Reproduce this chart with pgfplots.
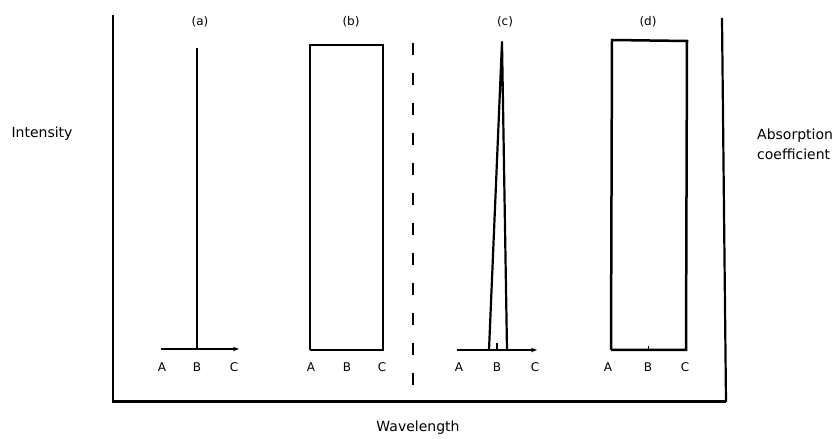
\documentclass[border=0pt]{standalone}
\usepackage{pgfplots}
\pgfplotsset{compat=1.18}
\usepackage{fontspec}
\setmainfont{DejaVu Sans}
\usetikzlibrary{arrows.meta}
\tikzset{
  lbl/.style={font=\fontsize{12}{14}\selectfont},
  big/.style={font=\fontsize{14}{20}\selectfont},
}
\begin{document}
\begin{tikzpicture}
\begin{axis}[
  scale only axis, width=839pt, height=438pt,
  xmin=0, xmax=839, ymin=0, ymax=438,
  hide axis, clip=false,
  every axis plot/.append style={black, no markers},
]
\path (rel axis cs:0,0) rectangle (rel axis cs:1,1);
% frame
\addplot[line width=2.8pt] coordinates {(113,423) (113,36)};
\addplot[line width=3pt] coordinates {(112,36) (726,36)};
\addplot[line width=2.2pt] coordinates {(722,420) (726,36)};
% dashed divider
\addplot[line width=2pt, dash pattern=on 12pt off 18pt] coordinates {(413,395) (413,38)};
% (a)
\addplot[line width=2pt] coordinates {(197,390) (197,89)};
\addplot[line width=1.8pt, -{Stealth[length=6pt,width=4.5pt]}] coordinates {(161,89) (239,89)};
% (b)
\addplot[line width=2.5pt] coordinates {(310,88) (310,393) (383,393) (383,88) (310,88)};
% (c)
\addplot[line width=1.8pt, -{Stealth[length=6pt,width=4.5pt]}] coordinates {(457,88) (537,88)};
\addplot[line width=1.2pt] coordinates {(497,88) (497,95)};
\addplot[line width=2.2pt, line join=round] coordinates {(489,88) (502,396) (507,88)};
% (d)
\addplot[line width=2.5pt] coordinates {(611,88) (612,398) (687,397) (686,88) (611,88)};
\addplot[line width=1pt] coordinates {(648,88) (648,92)};
% panel labels
\node[lbl] at (axis cs:200,416) {(a)};
\node[lbl] at (axis cs:351,416) {(b)};
\node[lbl] at (axis cs:505,416) {(c)};
\node[lbl] at (axis cs:648,416) {(d)};
% A B C labels
\node[lbl] at (axis cs:162,71) {A};
\node[lbl] at (axis cs:197,71) {B};
\node[lbl] at (axis cs:234,71) {C};
\node[lbl] at (axis cs:311,71) {A};
\node[lbl] at (axis cs:347,71) {B};
\node[lbl] at (axis cs:382,71) {C};
\node[lbl] at (axis cs:459,71) {A};
\node[lbl] at (axis cs:497,71) {B};
\node[lbl] at (axis cs:535,71) {C};
\node[lbl] at (axis cs:608,71) {A};
\node[lbl] at (axis cs:648,71) {B};
\node[lbl] at (axis cs:685,71) {C};
% axis labels
\node[big] at (axis cs:42,304) {Intensity};
\node[big, anchor=west, align=left, inner xsep=0pt] at (axis cs:757,294) {Absorption\\coefficient};
\node[big] at (axis cs:418,10) {Wavelength};
\end{axis}
\end{tikzpicture}
\end{document}
